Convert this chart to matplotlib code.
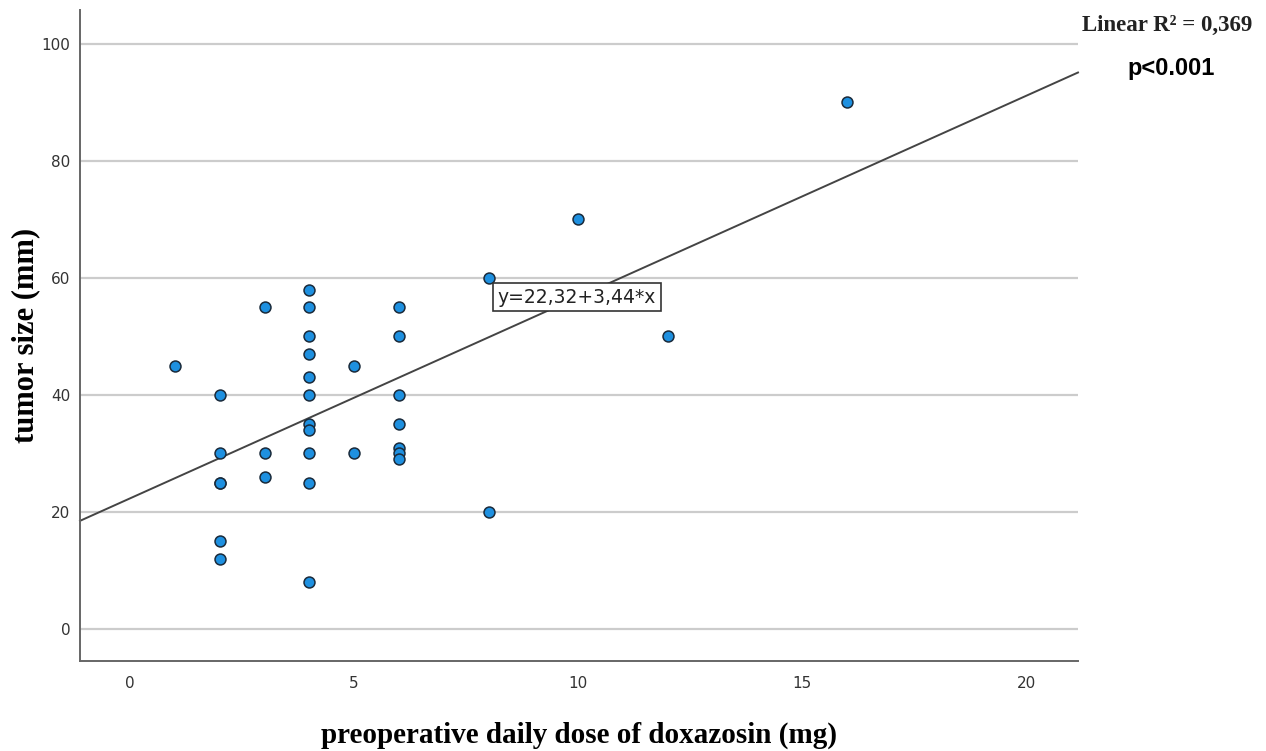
#!/usr/bin/env python3
"""Tumor size vs. preoperative doxazosin dose, SPSS-style scatter with fit line."""

import matplotlib

matplotlib.use("Agg")
import matplotlib.pyplot as plt
import numpy as np

# dose (mg) and tumor size (mm)
dose = [1,
        2, 2, 2, 2, 2, 2,
        3, 3, 3,
        4, 4, 4, 4, 4, 4, 4, 4, 4, 4, 4,
        5, 5,
        6, 6, 6, 6, 6, 6, 6,
        8, 8,
        10, 12, 16]
size = [45,
        40, 30, 25, 25, 15, 12,
        55, 30, 26,
        58, 55, 50, 47, 43, 40, 35, 34, 30, 25, 8,
        45, 30,
        55, 50, 40, 35, 31, 30, 29,
        60, 20,
        70, 50, 90]

intercept = 22.32
slope = 3.44
r2_text = "Linear R² = 0,369"
p_text = "p<0.001"
eq_text = "y=22,32+3,44*x"

COLOR_PT = "#1e90e0"
COLOR_EDGE = "#1a2a3a"
COLOR_LINE = "#444444"
COLOR_GRID = "#cccccc"
COLOR_TICK = "#333333"

fig = plt.figure(figsize=(12.66, 7.51), dpi=100)
ax = fig.add_axes([0.0632, 0.1198, 0.7883, 0.8669])

xlim = (-1.12, 21.16)
ax.set_xlim(*xlim)
ax.set_ylim(-5.5, 105.8)

ax.set_yticks([0, 20, 40, 60, 80, 100])
ax.set_xticks([0, 5, 10, 15, 20])
ax.grid(True, axis="y", color=COLOR_GRID, linewidth=1.6)
ax.set_axisbelow(True)

for side in ("top", "right"):
    ax.spines[side].set_visible(False)
for side in ("left", "bottom"):
    ax.spines[side].set_color("#666666")
    ax.spines[side].set_linewidth(1.4)

ax.tick_params(length=0, labelsize=11, labelcolor=COLOR_TICK)
ax.tick_params(axis="x", pad=11)
ax.tick_params(axis="y", pad=7)

# fit line across the whole x range
xs = np.array(xlim)
ax.plot(xs, intercept + slope * xs, color=COLOR_LINE, linewidth=1.4, zorder=2,
        clip_on=False)

ax.scatter(dose, size, s=62, color=COLOR_PT, edgecolor=COLOR_EDGE,
           linewidth=1.1, zorder=3)

ax.text(8.2, 56.7, eq_text, fontsize=13.5, va="center", ha="left",
        color="#222222", zorder=4,
        bbox=dict(boxstyle="square,pad=0.25", facecolor="white",
                  edgecolor="#333333", linewidth=1.2))

ax.set_xlabel("preoperative daily dose of doxazosin (mg)", family="Liberation Serif",
              fontweight="bold", fontsize=21, labelpad=22)
ax.set_ylabel("tumor size (mm)", family="Liberation Serif",
              fontweight="bold", fontsize=22, labelpad=1)

fig.text(0.9895, 0.966, r2_text, family="Liberation Serif", fontweight="bold",
         fontsize=16.5, ha="right", va="center", color="#222222")
fig.text(0.925, 0.909, p_text, family="Liberation Sans", fontweight="bold",
         fontsize=17, ha="center", va="center", color="black")

fig.savefig("out.png", dpi=100, facecolor="white")
